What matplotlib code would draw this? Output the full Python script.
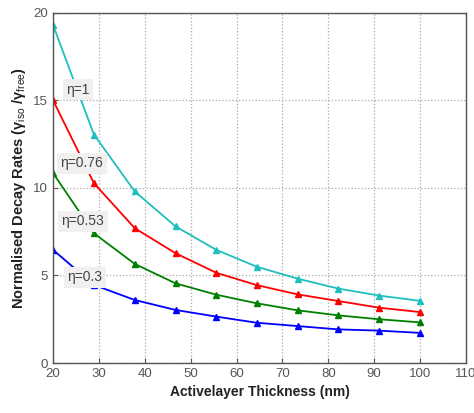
import matplotlib
matplotlib.use("Agg")
import matplotlib.pyplot as plt

plt.rcParams['font.family'] = ['Liberation Sans', 'DejaVu Sans']
plt.rcParams['mathtext.fontset'] = 'custom'
plt.rcParams['mathtext.rm'] = 'Liberation Sans'
plt.rcParams['mathtext.it'] = 'Liberation Sans'
plt.rcParams['mathtext.bf'] = 'Liberation Sans:bold'

thickness = [20, 28.9, 37.8, 46.7, 55.6, 64.4, 73.3, 82.2, 91.1, 100]
eta_1 = [19.3, 13.05, 9.8, 7.8, 6.46, 5.5, 4.82, 4.25, 3.85, 3.55]
eta_076 = [15.0, 10.27, 7.7, 6.27, 5.15, 4.45, 3.92, 3.54, 3.16, 2.91]
eta_053 = [10.84, 7.41, 5.66, 4.55, 3.9, 3.41, 3.01, 2.72, 2.5, 2.32]
eta_03 = [6.46, 4.46, 3.6, 3.03, 2.65, 2.3, 2.11, 1.92, 1.85, 1.72]

series = [
    (eta_1, '#1fbfbf', 'η=1', (25.4, 15.6)),
    (eta_076, '#ff0000', 'η=0.76', (26.3, 11.4)),
    (eta_053, '#008000', 'η=0.53', (26.5, 8.1)),
    (eta_03, '#0000ff', 'η=0.3', (27.0, 4.9)),
]

fig = plt.figure(figsize=(4.74, 4.13), dpi=100)
ax = fig.add_axes([0.112, 0.121, 0.871, 0.848])

for vals, col, lab, pos in series:
    ax.plot(thickness, vals, color=col, lw=1.3, marker='^', ms=4, zorder=2)
    ax.text(pos[0], pos[1], lab, ha='center', va='center', fontsize=10,
            color='#444444', zorder=5,
            bbox=dict(boxstyle='square,pad=0.25', fc='#f2f0ee', ec='none'))

ax.set_xlim(20, 110)
ax.set_ylim(0, 20)
ax.set_xticks(range(20, 111, 10))
ax.set_yticks(range(0, 21, 5))
ax.grid(True, linestyle=':', color='#aaaaaa', lw=0.9)
ax.tick_params(direction='in', labelsize=9.5, labelcolor='#555555', colors='#555555')
for sp in ax.spines.values():
    sp.set_color('#555555')
    sp.set_linewidth(1.0)

ax.set_xlabel('Activelayer Thickness (nm)', fontsize=10, fontweight='bold', color='#222222')
ax.set_ylabel('Normalised Decay Rates (γ$_{iso}$ /γ$_{free}$)', fontsize=10.5,
              fontweight='bold', color='#222222')

fig.savefig('out.png', dpi=100)
